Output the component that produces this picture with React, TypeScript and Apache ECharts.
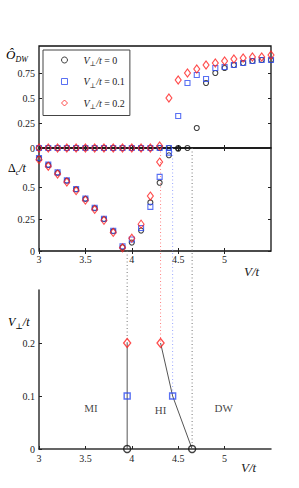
import React, { useEffect, useRef } from "react";
import * as echarts from "echarts";

// ---- data ----
const X_VALUES = [3.0, 3.1, 3.2, 3.3, 3.4, 3.5, 3.6, 3.7, 3.8, 3.9, 4.0, 4.1, 4.2, 4.3, 4.4, 4.5, 4.6, 4.7, 4.8, 4.9, 5.0, 5.1, 5.2, 5.3, 5.4, 5.5];
const SERIES_NAMES = ["V⊥/t = 0", "V⊥/t = 0.1", "V⊥/t = 0.2"];
const LEGEND_VALUES = ["0", "0.1", "0.2"];

// order parameter O_DW
const ODW_V0 = [0, 0, 0, 0, 0, 0, 0, 0, 0, 0, 0, 0, 0, 0, 0, 0, 0, 0.2, 0.65, 0.75, 0.8, 0.83, 0.85, 0.87, 0.88, 0.88];
const ODW_V1 = [0, 0, 0, 0, 0, 0, 0, 0, 0, 0, 0, 0, 0, 0, 0, 0.32, 0.65, 0.73, 0.69, 0.8, 0.81, 0.83, 0.85, 0.87, 0.88, 0.88];
const ODW_V2 = [0, 0, 0, 0, 0, 0, 0, 0, 0, 0, 0, 0, 0, 0.02, 0.5, 0.68, 0.75, 0.79, 0.83, 0.85, 0.87, 0.89, 0.9, 0.91, 0.91, 0.93];

// charge gap Delta_c / t
const GAP_V0 = [0.725, 0.673, 0.612, 0.55, 0.482, 0.408, 0.335, 0.249, 0.155, 0.03, 0.066, 0.16, 0.38, 0.534, 0.749, 0.8, null, null, null, null, null, null, null, null, null, null];
const GAP_V1 = [0.728, 0.676, 0.615, 0.553, 0.485, 0.411, 0.338, 0.252, 0.158, 0.037, 0.09, 0.18, 0.345, 0.58, 0.77, null, null, null, null, null, null, null, null, null, null, null];
const GAP_V2 = [0.715, 0.663, 0.602, 0.54, 0.472, 0.398, 0.325, 0.24, 0.145, 0.025, 0.1, 0.21, 0.43, 0.696, null, null, null, null, null, null, null, null, null, null, null, null];

// phase diagram
const PHASE_VPERP = [0, 0.1, 0.2];
const MI_HI_BOUNDARY = [3.95, 3.95, 3.95];
const HI_DW_BOUNDARY = [4.65, 4.44, 4.31];
const REGION_NAMES = ["MI", "HI", "DW"];
const REGION_X = [3.56, 4.31, 4.99];
const REGION_Y = [0.078, 0.074, 0.078];

const X_TICKS = [3, 3.5, 4, 4.5, 5];
const ODW_TICKS = [0, 0.25, 0.5, 0.75];
const GAP_TICKS = [0, 0.25, 0.5];
const PHASE_TICKS = [0, 0.1, 0.2];
const GAP_MAX = 0.806;

// ---- styles ----
const FONT = "'Liberation Serif', 'DejaVu Serif', serif";
const COLORS = ["#111111", "#2f4cf0", "#ff2020"];
const DOT_COLORS = ["#777777", "#9aa6ff", "#ff8080"];
const SYMBOLS = ["circle", "rect", "diamond"];
const SIZES: any[] = [5, 5, [6, 8]];
const PHASE_SIZES: any[] = [7, 6, [7, 9]];

const pairs = (ys: (number | null)[]) =>
  X_VALUES.map((x, i) => [x, ys[i]]).filter((p) => p[1] !== null);

export default function App() {
  const ref = useRef<HTMLDivElement>(null);

  useEffect(() => {
    document.body.style.margin = "0";
    const chart = echarts.init(ref.current!, undefined, { renderer: "svg" });

    const tickLabel = { fontFamily: FONT, fontSize: 10, color: "#222" };
    const tick = { show: true, inside: true, length: 3, lineStyle: { color: "#222", width: 1 } };

    const xAxisBase = (gridIndex: number, extra: any) => ({
      type: "value",
      gridIndex,
      min: 3,
      max: 5.5,
      interval: 0.5,
      splitLine: { show: false },
      axisLine: { show: false },
      axisTick: { ...tick, customValues: X_TICKS },
      axisLabel: { show: false },
      ...extra,
    });
    const yAxisBase = (gridIndex: number, max: number, interval: number, ticks: number[], extra: any) => ({
      type: "value",
      gridIndex,
      min: 0,
      max,
      interval,
      splitLine: { show: false },
      axisLine: { show: false },
      axisTick: { ...tick, customValues: ticks },
      axisLabel: { show: false },
      ...extra,
    });

    const series: any[] = [];
    const odw = [ODW_V0, ODW_V1, ODW_V2];
    const gap = [GAP_V0, GAP_V1, GAP_V2];
    for (let k = 0; k < 3; k++) {
      series.push({
        type: "scatter",
        name: SERIES_NAMES[k],
        xAxisIndex: 0,
        yAxisIndex: 0,
        symbol: SYMBOLS[k],
        symbolSize: SIZES[k],
        itemStyle: { color: "rgba(255,255,255,0)", borderColor: COLORS[k], borderWidth: 1.1 },
        data: pairs(odw[k]),
        z: 3 + k,
      });
    }
    for (let k = 0; k < 3; k++) {
      series.push({
        type: "scatter",
        name: SERIES_NAMES[k],
        xAxisIndex: 2,
        yAxisIndex: 2,
        symbol: SYMBOLS[k],
        symbolSize: SIZES[k],
        itemStyle: { color: "rgba(255,255,255,0)", borderColor: COLORS[k], borderWidth: 1.1 },
        data: pairs(gap[k]),
        z: 3 + k,
      });
    }
    // phase boundaries
    series.push({
      type: "line",
      name: "MI-HI",
      xAxisIndex: 4,
      yAxisIndex: 4,
      showSymbol: false,
      lineStyle: { color: "#555", width: 1 },
      data: PHASE_VPERP.map((v, i) => [MI_HI_BOUNDARY[i], v]),
      z: 2,
    });
    series.push({
      type: "line",
      name: "HI-DW",
      xAxisIndex: 4,
      yAxisIndex: 4,
      showSymbol: false,
      lineStyle: { color: "#555", width: 1 },
      data: PHASE_VPERP.map((v, i) => [HI_DW_BOUNDARY[i], v]),
      z: 2,
    });
    for (let k = 0; k < 3; k++) {
      series.push({
        type: "scatter",
        name: SERIES_NAMES[k],
        xAxisIndex: 4,
        yAxisIndex: 4,
        symbol: SYMBOLS[k],
        symbolSize: PHASE_SIZES[k],
        itemStyle: { color: "rgba(255,255,255,0)", borderColor: COLORS[k], borderWidth: 1.4 },
        data: [
          [MI_HI_BOUNDARY[k], PHASE_VPERP[k]],
          [HI_DW_BOUNDARY[k], PHASE_VPERP[k]],
        ],
        z: 4,
      });
    }
    series.push({
      type: "scatter",
      name: "regions",
      xAxisIndex: 4,
      yAxisIndex: 4,
      symbolSize: 0,
      label: {
        show: true,
        position: "inside",
        formatter: "{b}",
        fontFamily: FONT,
        fontSize: 11,
        color: "#111",
      },
      data: REGION_NAMES.map((n, i) => ({ name: n, value: [REGION_X[i], REGION_Y[i]] })),
    });

    const sub = (size: number) => ({ fontFamily: FONT, fontSize: size, fontStyle: "italic", color: "#222", verticalAlign: "bottom" });
    const main = (size: number, italic = true) => ({
      fontFamily: FONT,
      fontSize: size,
      fontStyle: italic ? "italic" : "normal",
      color: "#222",
      lineHeight: size + 5,
    });

    const option: any = {
      animation: false,
      backgroundColor: "#fff",
      grid: [
        { left: 39, top: 46, width: 232, height: 102, show: true, borderColor: "#111", borderWidth: 1.3, backgroundColor: "transparent" },
        { left: 39, top: 148, width: 232, height: 103, show: true, borderColor: "#111", borderWidth: 1.3, backgroundColor: "transparent" },
        { left: 39, top: 290, width: 232, height: 159 },
      ],
      xAxis: [
        xAxisBase(0, { position: "bottom" }),
        xAxisBase(0, { position: "top" }),
        xAxisBase(1, {
          position: "bottom",
          axisLabel: { show: true, ...tickLabel, margin: 3, customValues: X_TICKS },
        }),
        xAxisBase(1, { position: "top" }),
        xAxisBase(2, {
          position: "bottom",
          axisLine: { show: true, onZero: false, lineStyle: { color: "#333", width: 1.5 } },
          axisLabel: { show: true, ...tickLabel, margin: 4, customValues: X_TICKS },
        }),
      ],
      yAxis: [
        yAxisBase(0, 1.02, 0.25, ODW_TICKS, {
          position: "left",
          axisLabel: { show: true, ...tickLabel, margin: 4, customValues: ODW_TICKS },
        }),
        yAxisBase(0, 1.02, 0.25, ODW_TICKS, { position: "right" }),
        yAxisBase(1, GAP_MAX, 0.25, GAP_TICKS, {
          position: "left",
          axisLabel: { show: true, ...tickLabel, margin: 4, customValues: GAP_TICKS },
        }),
        yAxisBase(1, GAP_MAX, 0.25, GAP_TICKS, { position: "right" }),
        yAxisBase(2, 0.3, 0.1, PHASE_TICKS, {
          position: "left",
          axisLine: { show: true, onZero: false, lineStyle: { color: "#333", width: 1.5 } },
          axisLabel: { show: true, ...tickLabel, margin: 4, customValues: PHASE_TICKS },
        }),
      ],
      legend: {
        left: 43,
        top: 50,
        orient: "vertical",
        data: SERIES_NAMES,
        borderColor: "#444",
        borderWidth: 1,
        backgroundColor: "#fff",
        padding: [5, 5, 5, 18],
        itemWidth: 6,
        itemHeight: 6,
        itemGap: 9,
        selectedMode: false,
        itemStyle: { borderWidth: 1 },
        formatter: (name: string) => {
          const i = SERIES_NAMES.indexOf(name);
          return `{i|V}{s|⊥}{i|/t}{n| = ${LEGEND_VALUES[i]}}`;
        },
        textStyle: {
          padding: [0, 0, 0, 11],
          rich: {
            i: main(10),
            n: main(10, false),
            s: sub(7),
          },
        },
      },
      graphic: [
        {
          type: "text",
          left: 6,
          top: 48,
          style: {
            text: "{i|Ô}{s|DW}",
            rich: { i: main(13), s: sub(8) },
          },
        },
        {
          type: "text",
          left: 8,
          top: 162,
          style: {
            text: "{n|Δ}{s|c}{i|/t}",
            rich: { n: main(12, false), i: main(12), s: sub(8) },
          },
        },
        {
          type: "text",
          left: 8,
          top: 316,
          style: {
            text: "{i|V}{s|⊥}{i|/t}",
            rich: { i: main(12), s: sub(8) },
          },
        },
        {
          type: "text",
          left: 244,
          top: 265,
          style: { text: "V/t", fontFamily: FONT, fontSize: 13, fontStyle: "italic", fill: "#222" },
        },
        {
          type: "text",
          left: 241,
          top: 461,
          style: { text: "V/t", fontFamily: FONT, fontSize: 13, fontStyle: "italic", fill: "#222" },
        },
      ],
      series,
    };

    chart.setOption(option);

    // dotted guide lines linking the gap panel to the phase diagram
    const guides = [
      { x: MI_HI_BOUNDARY[0], from: 0, to: PHASE_VPERP[2], color: DOT_COLORS[0] },
      { x: HI_DW_BOUNDARY[2], from: GAP_MAX, to: PHASE_VPERP[2], color: DOT_COLORS[2] },
      { x: HI_DW_BOUNDARY[1], from: GAP_MAX, to: PHASE_VPERP[1], color: DOT_COLORS[1] },
      { x: HI_DW_BOUNDARY[0], from: GAP_MAX, to: PHASE_VPERP[0], color: DOT_COLORS[0] },
    ];
    const lines = guides.map((g) => {
      const p1 = chart.convertToPixel({ gridIndex: 1 } as any, [g.x, g.from]) as number[];
      const p2 = chart.convertToPixel({ gridIndex: 2 } as any, [g.x, g.to]) as number[];
      return {
        type: "line",
        z: 1,
        shape: { x1: p1[0], y1: p1[1], x2: p2[0], y2: p2[1] },
        style: { stroke: g.color, lineWidth: 1, lineDash: [1, 2.5] },
      };
    });
    chart.setOption({ graphic: [...option.graphic, ...lines] }, { replaceMerge: ["graphic"] } as any);

    return () => chart.dispose();
  }, []);

  return <div ref={ref} style={{ width: 299, height: 488 }} />;
}
